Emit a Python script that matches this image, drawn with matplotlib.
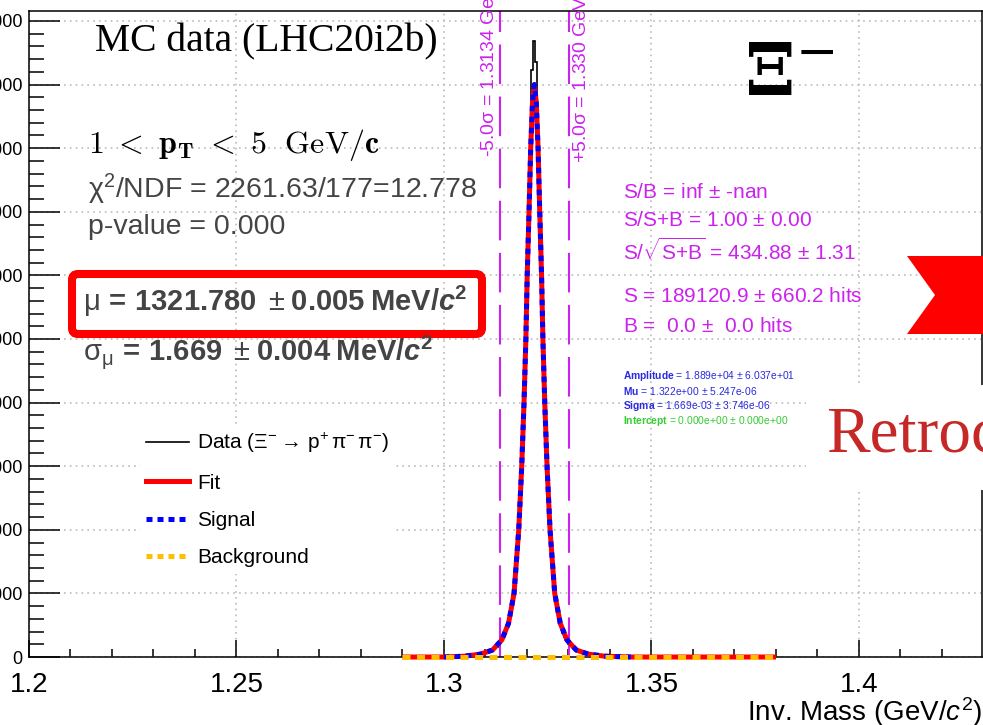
import numpy as np
import matplotlib.pyplot as plt
from matplotlib.ticker import MultipleLocator, FuncFormatter
from matplotlib.patches import Polygon, FancyBboxPatch, Rectangle
from matplotlib.lines import Line2D
from matplotlib.transforms import IdentityTransform

plt.rcParams['font.family'] = ['Liberation Sans', 'DejaVu Sans']
plt.rcParams['mathtext.fontset'] = 'custom'
plt.rcParams['mathtext.rm'] = 'Liberation Sans'
plt.rcParams['mathtext.it'] = 'Liberation Sans:italic'
plt.rcParams['mathtext.bf'] = 'Liberation Sans:bold'
plt.rcParams['mathtext.bfit'] = 'Liberation Sans:italic:bold'

# histogram of the MC data, bins of 0.5 MeV from 1.305 to 1.340 GeV
hist_lo, hist_hi = 1.305, 1.340
counts = [12, 14, 18, 22, 28, 34, 40, 45, 55, 65, 78, 90, 100, 112, 135, 165,
          205, 255, 310, 380, 470, 590, 760, 980, 1350, 1780, 2350, 3080, 4000,
          5100, 6450, 7750, 9230, 9690, 9355, 8180, 6500, 5100, 3950, 3050, 2300,
          1750, 1300, 980, 750, 600, 480, 380, 310, 255, 210, 170, 135, 112, 100,
          88, 76, 65, 55, 45, 38, 32, 27, 22, 18, 14, 12, 10, 8, 6]

# fit curve
fit_mass = [1.2900, 1.3000, 1.3048, 1.3088, 1.31170, 1.31395, 1.31555, 1.31688,
            1.31801, 1.31873, 1.31928, 1.31973, 1.32005, 1.32049, 1.32089,
            1.32133, 1.32178, 1.32223, 1.32267, 1.32307, 1.32351, 1.32383,
            1.32428, 1.32483, 1.32555, 1.32668, 1.32801, 1.32961, 1.33186,
            1.3348, 1.3388, 1.3450, 1.3800]
fit_vals = [0, 0, 12, 45, 110, 270, 530, 1000, 2000, 3000, 4000, 5000, 6000, 7000,
            8000, 8730, 9000, 8730, 8000, 7000, 6000, 5000, 4000, 3000, 2000, 1000,
            530, 270, 110, 45, 12, 0, 0]
sig_from, sig_to = 1, 32   # signal drawn on the same points, without the flat ends
bkg_mass = [1.29, 1.38]
bkg_vals = [0, 0]

mu, sig = 1.32178, 0.001669
lo5, hi5 = 1.3134, 1.3302

W, H = 983, 725
fig = plt.figure(figsize=(W / 100, H / 100), dpi=100)
ax = fig.add_axes([29 / W, 1 - 657 / H, (982 - 29) / W, (657 - 11) / H])


def fx(x):
    return x / W


def fy(y):
    return 1 - y / H


mag = '#cc22ee'
gray = '#444444'

edges = np.linspace(hist_lo, hist_hi, len(counts) + 1)
ax.stairs(counts, edges, color='black', lw=1.2, zorder=3)
ax.plot(fit_mass, fit_vals, color='red', lw=3.6, zorder=4, clip_on=False,
        solid_capstyle='butt')
ax.plot(fit_mass[sig_from:sig_to], fit_vals[sig_from:sig_to], color='blue',
        lw=3.6, ls=(0, (1.1, 1.1)), zorder=5, clip_on=False)
ax.plot(bkg_mass, bkg_vals, color='#ffbf00', lw=3.6, ls=(0, (1.6, 1.3)),
        zorder=6, clip_on=False)

for xv in (lo5, hi5):
    ax.axvline(xv, color=mag, lw=1.5, ls=(0, (19, 6)), zorder=2)

ax.set_xlim(1.2, 1.42964)
ax.set_ylim(0, 10157)
ax.xaxis.set_major_locator(MultipleLocator(0.05))
ax.xaxis.set_minor_locator(MultipleLocator(0.01))
ax.yaxis.set_major_locator(MultipleLocator(1000))
ax.yaxis.set_minor_locator(MultipleLocator(200))
ax.xaxis.set_major_formatter(FuncFormatter(lambda v, p: '%g' % round(v, 3)))
ax.yaxis.set_major_formatter(FuncFormatter(lambda v, p: '%d' % v))
ax.tick_params(which='both', direction='in', width=1.1, top=False, right=False)
ax.tick_params(axis='x', which='major', length=12, labelsize=20, pad=11)
ax.tick_params(axis='x', which='minor', length=6)
ax.tick_params(axis='y', which='major', length=22, labelsize=13, pad=4.5)
ax.tick_params(axis='y', which='minor', length=11)
for s in ax.spines.values():
    s.set_linewidth(1.1)
ax.set_axisbelow(True)
ax.grid(True, which='major', color='#bbbbbb', ls=(0, (1, 2.5)), lw=1.2)

fig.text(fx(982), fy(712), r'Inv. Mass (GeV/$c^{2}$)', fontsize=20,
         ha='right', va='center')

# sigma-window labels
fig.text(fx(487), fy(157), r'-5.0$\mathrm{\sigma}$ = %.4f GeV/$c^2$' % lo5,
         rotation=90, color=mag, fontsize=14, ha='center', va='bottom')
fig.text(fx(579), fy(163), r'+5.0$\mathrm{\sigma}$ = %.3f GeV/$c^2$' % hi5,
         rotation=90, color=mag, fontsize=14, ha='center', va='bottom')

# headline texts
fig.text(fx(95), fy(42), 'MC data (LHC20i2b)', family='Liberation Serif',
         fontsize=28.5, va='center')
fig.text(fx(744), fy(95), r'$\mathbf{\Xi}^{-}$', math_fontfamily='dejavuserif',
         fontsize=52, va='baseline')
fig.text(fx(88), fy(145), r'$\mathbf{1\ <\ p_T\ <\ 5}\ \ \mathrm{GeV}/\mathbf{c}$',
         math_fontfamily='cm', fontsize=23, va='center')
fig.text(fx(88), fy(189), r'$\mathrm{\chi}^{2}$/NDF = 2261.63/177=12.778',
         fontsize=20.5, color=gray, va='center')
fig.text(fx(88), fy(227), 'p-value = 0.000', fontsize=20.5, color=gray,
         va='center')
fig.text(fx(83), fy(301),
         r'$\mathrm{\mu}\,\mathbf{{=}\,1321.780}\ \,{\pm}\;\mathbf{0.005\;MeV/}\mathbfit{c}^{\mathbf{2}}$',
         fontsize=21, color=gray, va='center')
fig.text(fx(83), fy(352),
         r'$\mathrm{\sigma_{\mu}}\,\mathbf{{=}\,1.669}\ \,{\pm}\;\mathbf{0.004\;MeV/}\mathbfit{c}^{\mathbf{2}}$',
         fontsize=21, color=gray, va='center')

box = FancyBboxPatch((72, H - 334), 410, 60, boxstyle='round,pad=0,rounding_size=6',
                     transform=IdentityTransform(), lw=5.8, ec='red', fc='none')
fig.add_artist(box)

# S/B block
sb_lines = [(192, r'S/B = inf $\pm$ -nan'),
            (221, r'S/S+B = 1.00 $\pm$ 0.00'),
            (251, r'S/$\sqrt{\mathrm{S{+}B}}$ = 434.88 $\pm$ 1.31'),
            (296, r'S = 189120.9 $\pm$ 660.2 hits'),
            (327, r'B =  0.0 $\pm$  0.0 hits')]
for yy, t in sb_lines:
    fig.text(fx(623), fy(yy), t, color=mag, fontsize=15, va='center')

par_lines = [(376, r'$\mathbf{Amplitude}$ = 1.889e+04 $\pm$ 6.037e+01', '#2a2ae0'),
             (391, r'$\mathbf{Mu}$ = 1.322e+00 $\pm$ 5.247e-06', '#2a2ae0'),
             (406, r'$\mathbf{Sigma}$ = 1.669e-03 $\pm$ 3.746e-06', '#2a2ae0'),
             (421, r'$\mathbf{Intercept}$ = 0.000e+00 $\pm$ 0.000e+00', '#33cc33')]
for yy, t, c in par_lines:
    fig.text(fx(623), fy(yy), t, color=c, fontsize=7.4, va='center')

# legend
handles = [Line2D([], [], color='black', lw=1.2),
           Line2D([], [], color='red', lw=3.6),
           Line2D([], [], color='blue', lw=3.6, ls=(0, (1.2, 1.0))),
           Line2D([], [], color='#ffbf00', lw=3.6, ls=(0, (1.2, 1.0)))]
labels = [r'Data ($\Xi^{-}{\rightarrow}\,\mathrm{p}^{+}\,\mathrm{\pi}^{-}\,\mathrm{\pi}^{-}$)',
          'Fit', 'Signal', 'Background']
leg = ax.legend(handles, labels, loc='upper left', bbox_to_anchor=(fx(140), fy(425)),
                bbox_transform=fig.transFigure, fontsize=15, handlelength=2.07,
                handletextpad=0.38, labelspacing=0.88, borderpad=0.3,
                borderaxespad=0, frameon=True, fancybox=False)
leg.get_frame().set_facecolor('white')
leg.get_frame().set_edgecolor('none')
leg.get_frame().set_alpha(1)

# overlay bits from the screenshot
fig.add_artist(Polygon([(907, H - 256), (983, H - 256), (983, H - 334),
                        (907, H - 334), (935, H - 295)], closed=True,
                       transform=IdentityTransform(), fc='red', ec='none'))
fig.add_artist(Rectangle((806, H - 490), 177, 105, transform=IdentityTransform(),
                         fc='white', ec='none'))
fig.text(fx(826), fy(452), 'Retroc', family='Liberation Serif', fontsize=47,
         color='#c62828', va='baseline')

fig.savefig('out.png', dpi=100)
